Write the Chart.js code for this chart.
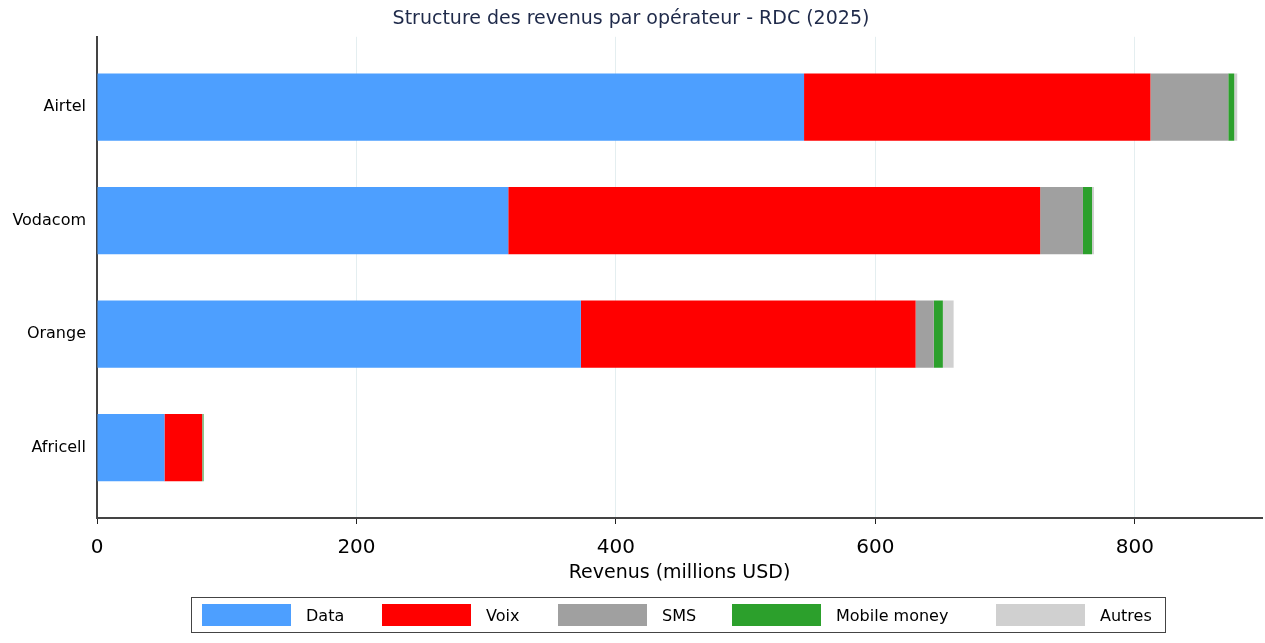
<!DOCTYPE html>
<html>
<head>
<meta charset="utf-8">
<script src="https://cdn.jsdelivr.net/npm/chart.js@4.4.1/dist/chart.umd.min.js"></script>
<style>
  html, body { margin: 0; padding: 0; background: #fff; }
  #wrap { position: relative; width: 1265px; height: 643px; }
  #legende {
    position: absolute; left: 191px; top: 597px; width: 975px; height: 36px;
    border: 1px solid #444; box-sizing: border-box;
    font-family: "DejaVu Sans", sans-serif; font-size: 16px; color: #000;
  }
  #legende .item { display: flex; align-items: center; position: absolute; top: 6px; }
  #legende .swatch { width: 89px; height: 22px; margin-right: 15px; }
</style>
</head>
<body>
<div id="wrap">
  <canvas id="barCanvas" width="1265" height="643"></canvas>
  <div id="legende"></div>
</div>
<script>
const operateurs = ["Airtel", "Vodacom", "Orange", "Africell"];
const series = ["Data", "Voix", "SMS", "Mobile money", "Autres"];
const data = [545, 317, 373, 52];
const voix = [267, 410, 258, 29];
const sms = [60, 33, 14, 0.3];
const mobileMoney = [4.6, 7, 7, 0.8];
const autres = [2.3, 1.5, 8.3, 0.3];
const xTicks = [0, 200, 400, 600, 800];
const couleurs = ["#4d9fff", "#ff0000", "#a0a0a0", "#2ca02c", "#d0d0d0"];

const valeurs = [data, voix, sms, mobileMoney, autres];

// axe y linéaire pour avoir les marges comme dans l'original
const datasets = series.map((nom, k) => ({
    label: nom,
    data: valeurs[k].map((v, i) => ({x: v, y: i})),
    backgroundColor: couleurs[k],
    borderWidth: 0,
    categoryPercentage: 1,
    barPercentage: 0.593
}));

const barCanvas = document.getElementById("barCanvas");
const barChart = new Chart(barCanvas, {
    type: "bar",
    data: { datasets: datasets },
    options: {
        indexAxis: "y",
        responsive: false,
        animation: false,
        layout: { padding: { left: 0, right: 3, top: 0, bottom: 59 } },
        plugins: {
            legend: { display: false },
            tooltip: { enabled: false },
            title: {
                display: true,
                text: "Structure des revenus par opérateur - RDC (2025)",
                color: "#1f2a4a",
                font: { family: "DejaVu Sans", size: 19, weight: "normal" },
                padding: { top: 8, bottom: 6 }
            }
        },
        scales: {
            x: {
                type: "linear",
                stacked: true,
                min: 0,
                max: 898,
                afterBuildTicks: s => { s.ticks = xTicks.map(v => ({value: v})); },
                afterFit: s => { s.height = 66; },
                border: { display: true, color: "#444", width: 2 },
                grid: {
                    color: "#e4eef0",
                    tickColor: "#222",
                    tickLength: 6,
                    lineWidth: 1
                },
                ticks: {
                    color: "#000",
                    padding: 12,
                    font: { family: "DejaVu Sans", size: 20 }
                },
                title: {
                    display: true,
                    text: "Revenus (millions USD)",
                    color: "#000",
                    font: { family: "DejaVu Sans", size: 19 },
                    padding: { top: 0, bottom: 0 }
                }
            },
            y: {
                type: "linear",
                stacked: true,
                reverse: true,
                offset: false,
                min: -0.62,
                max: 3.62,
                afterBuildTicks: s => { s.ticks = operateurs.map((c, i) => ({value: i})); },
                afterFit: s => { s.width = 97; },
                border: { display: true, color: "#444", width: 2 },
                grid: { display: false, offset: false },
                ticks: {
                    color: "#000",
                    padding: 3,
                    callback: v => operateurs[v],
                    font: { family: "DejaVu Sans", size: 16 }
                }
            }
        }
    }
});

// légende encadrée en HTML, positions des items comme dans l'original
const legende = document.getElementById("legende");
const positions = [10, 190, 366, 540, 804];
series.forEach((nom, k) => {
    const item = document.createElement("div");
    item.className = "item";
    item.style.left = positions[k] + "px";
    item.innerHTML = '<span class="swatch" style="background:' + couleurs[k] + '"></span><span>' + nom + '</span>';
    legende.appendChild(item);
});
</script>
</body>
</html>
